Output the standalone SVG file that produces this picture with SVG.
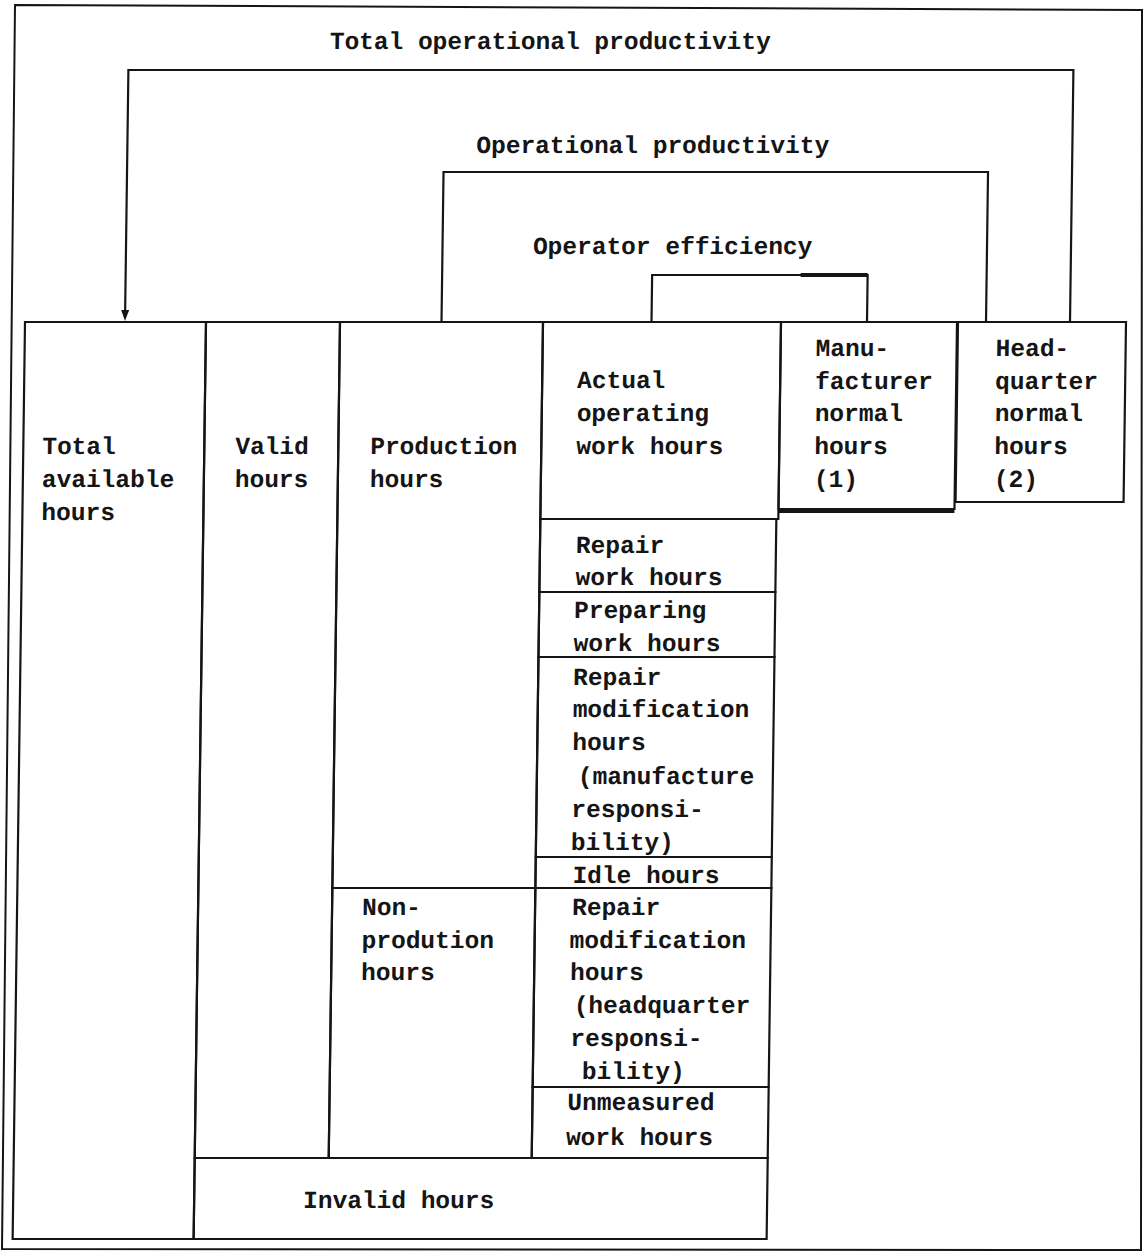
<svg xmlns="http://www.w3.org/2000/svg" width="1147" height="1255" viewBox="0 0 1147 1255">
<style>
.bx{fill:none;stroke:#151515;stroke-width:2.2}
.cn{fill:none;stroke:#151515;stroke-width:2.2}
text{font-family:"Liberation Mono","Courier New",monospace;font-size:24.5px;font-weight:bold;fill:#151515}
</style>
<defs>
<marker id="ah" viewBox="0 0 8 10" refX="4" refY="10" markerWidth="8" markerHeight="10" markerUnits="userSpaceOnUse" orient="auto-start-reverse">
<path d="M0,0 L8,0 L4,10 Z" fill="#151515" transform="rotate(0)"/>
</marker>
</defs>
<rect width="1147" height="1255" fill="#fff"/>
<polygon id="frame" points="15,5 1142,10 1141,1250 2,1249" fill="none" stroke="#151515" stroke-width="2"/>
<g transform="matrix(1,0,-0.0135,1,4.35,0)">
<g id="connectors">
<path class="cn" d="M1070,322 V70 H125 V312"/>
<path d="M121,310 L129,310 L125,321 Z" fill="#151515"/>
<path class="cn" d="M441.5,322 V172 H986 V322"/>
<path class="cn" d="M651.5,322 V275 H867 V322"/>
<path d="M800,275 H867" stroke="#151515" stroke-width="4"/>
</g>
<g id="labels">
<text x="326" y="49">Total operational productivity</text>
<text x="474" y="153">Operational productivity</text>
<text x="532" y="254">Operator efficiency</text>
</g>
<g id="total-available">
<rect class="bx" x="25" y="322" width="181" height="917"/>
<text x="44" y="454">Total</text>
<text x="44" y="487">available</text>
<text x="44" y="520">hours</text>
</g>
<g id="valid">
<rect class="bx" x="206" y="322" width="134" height="836"/>
<text x="237" y="454">Valid</text>
<text x="237" y="487">hours</text>
</g>
<g id="production">
<rect class="bx" x="340" y="322" width="203" height="566"/>
<text x="372" y="454">Production</text>
<text x="372" y="487">hours</text>
</g>
<g id="non-production">
<rect class="bx" x="340" y="888" width="203" height="270"/>
<text x="370" y="915">Non-</text>
<text x="370" y="948">prodution</text>
<text x="370" y="980">hours</text>
</g>
<g id="actual">
<rect class="bx" x="543" y="322" width="238" height="197"/>
<text x="578" y="388">Actual</text>
<text x="578" y="421">operating</text>
<text x="578" y="454">work hours</text>
</g>
<g id="manufacturer">
<rect class="bx" x="781" y="322" width="176" height="187"/>
<path d="M781,511.5 H957" stroke="#151515" stroke-width="3"/>
<text x="816" y="356">Manu-</text>
<text x="816" y="389">facturer</text>
<text x="816" y="421">normal</text>
<text x="816" y="454">hours</text>
<text x="816" y="487">(1)</text>
</g>
<g id="headquarter">
<rect class="bx" x="958" y="322" width="168" height="180"/>
<text x="996" y="356">Head-</text>
<text x="996" y="389">quarter</text>
<text x="996" y="421">normal</text>
<text x="996" y="454">hours</text>
<text x="996" y="487">(2)</text>
</g>
<g id="repair-work">
<rect class="bx" x="543" y="519" width="236" height="73"/>
<text x="579" y="553">Repair</text>
<text x="579" y="585">work hours</text>
</g>
<g id="preparing">
<rect class="bx" x="543" y="592" width="236" height="65"/>
<text x="578" y="618">Preparing</text>
<text x="578" y="651">work hours</text>
</g>
<g id="repair-mod-manufacture">
<rect class="bx" x="543" y="657" width="236" height="200"/>
<text x="578" y="685">Repair</text>
<text x="578" y="717">modification</text>
<text x="578" y="750">hours</text>
<text x="584" y="784">(manufacture</text>
<text x="578" y="817">responsi-</text>
<text x="578" y="850">bility)</text>
</g>
<g id="idle">
<rect class="bx" x="543" y="857" width="236" height="31"/>
<text x="580" y="883">Idle hours</text>
</g>
<g id="repair-mod-headquarter">
<rect class="bx" x="543" y="888" width="236" height="199"/>
<text x="580" y="915">Repair</text>
<text x="578" y="948">modification</text>
<text x="579" y="980">hours</text>
<text x="583" y="1013">(headquarter</text>
<text x="580" y="1046">responsi-</text>
<text x="592" y="1079">bility)</text>
</g>
<g id="unmeasured">
<rect class="bx" x="543" y="1087" width="236" height="71"/>
<text x="578" y="1110">Unmeasured</text>
<text x="577" y="1145">work hours</text>
</g>
<g id="invalid">
<rect class="bx" x="206" y="1158" width="573" height="81"/>
<text x="315" y="1208">Invalid hours</text>
</g>
</g>
</svg>
